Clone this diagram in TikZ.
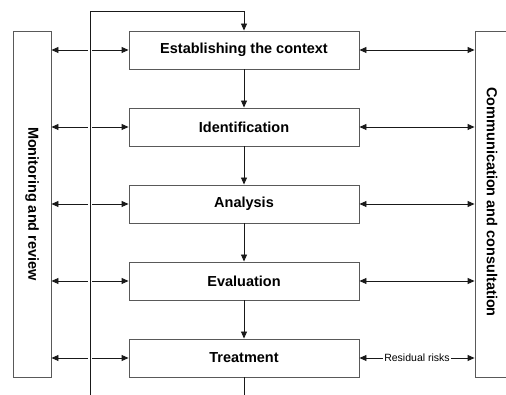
\documentclass[tikz,border=0pt]{standalone}
\usepackage{fontspec}
\setmainfont{Liberation Sans}
\usetikzlibrary{arrows.meta}
\begin{document}
\begin{tikzpicture}[x=1pt,y=-1pt,
  box/.style={draw=black!65, line width=0.9pt, minimum width=230pt, minimum height=38pt, inner sep=0pt, fill=white, font=\fontsize{14.5}{17}\selectfont\bfseries},
  side/.style={draw=black!65, line width=0.9pt, minimum width=38pt, minimum height=346pt, inner sep=0pt},
  sidetext/.style={rotate=-90, font=\fontsize{14.5}{17}\selectfont\bfseries},
  conn/.style={line width=0.9pt, draw=black!90},
  arr/.style={conn, -{Triangle[length=7pt,width=6pt]}},
  darr/.style={conn, {Triangle[length=7pt,width=6pt]}-{Triangle[length=7pt,width=6pt]}},
  small/.style={fill=white, inner sep=1pt, font=\fontsize{10.5}{12}\selectfont},
]
\useasboundingbox (0,0) rectangle (506,395);
\node[box] (b1) at (244,50) {Establishing the context};
\node[box] (b2) at (244,127) {Identification};
\node[box] (b3) at (244,204) {Analysis};
\node[box] (b4) at (244,281) {Evaluation};
\node[box] (b5) at (244,358) {Treatment};
\node[side] (L) at (32,204) {};
\node[side] (R) at (494,204) {};
\node[sidetext] (Lt) at (32,204) {Monitoring and review};
\node[sidetext] (Rt) at (492,202) {Communication and consultation};
% vertical flow
\draw[arr] (b1) -- (b2);
\draw[arr] (b2) -- (b3);
\draw[arr] (b3) -- (b4);
\draw[arr] (b4) -- (b5);
\coordinate (bend) at (244,395);
\draw[conn] (b5.south) -- (bend);
% left arrows
\foreach \b in {b1,b2,b3,b4,b5}{
  \draw[darr] (L.east |- \b) -- (\b.west);
}
% right arrows
\foreach \b in {b1,b2,b3,b4}{
  \draw[darr] (\b.east) -- (R.west |- \b);
}
\draw[darr] (b5.east) -- (R.west |- b5) node[midway, small] (res) {Residual risks};
% feedback loop
\coordinate (vbot) at (90,395);
\coordinate (vtop) at (90,11);
\draw[conn, preaction={draw=white, line width=4pt}] (vbot) -- (vtop);
\draw[arr] (vtop) -| (b1.north);
\end{tikzpicture}
\end{document}
